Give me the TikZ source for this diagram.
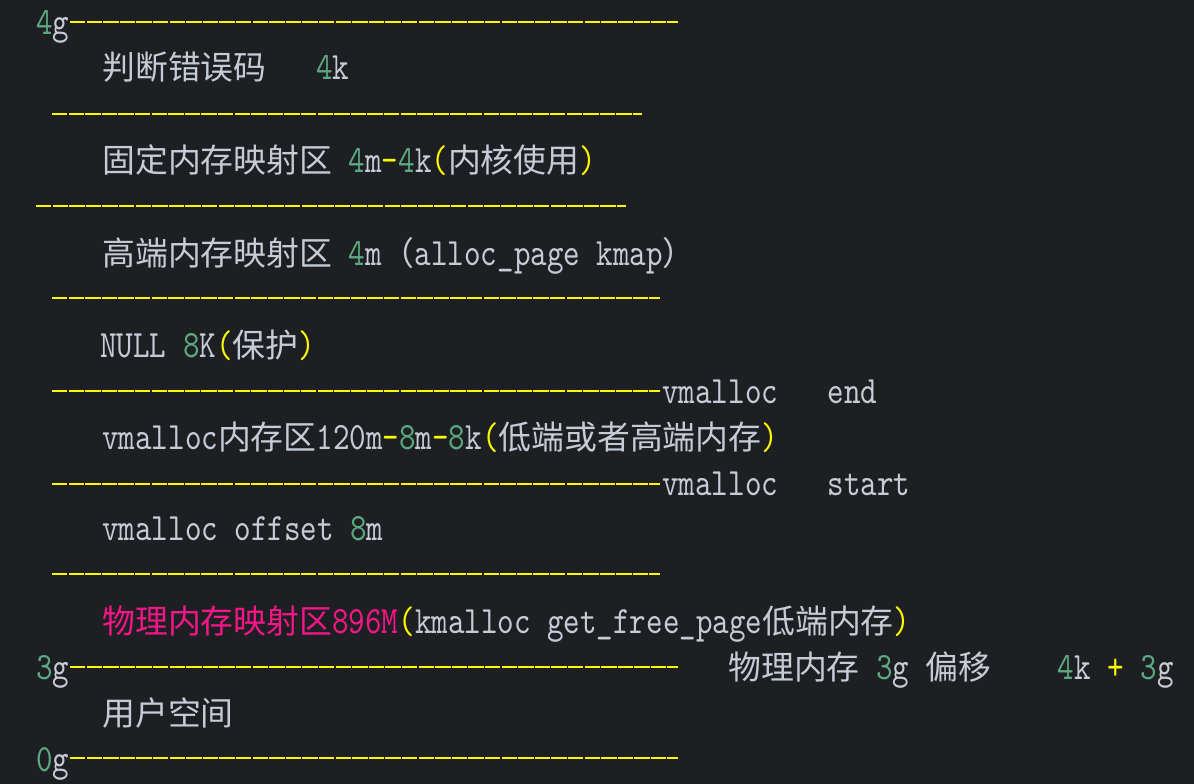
\documentclass[tikz,border=0pt]{standalone}
\usepackage{fontspec}
\newfontfamily\codefont{lmmono10-regular.otf}[FakeStretch=0.815]
\newfontfamily\cjk{Noto Sans CJK SC}[Scale=0.85]

\definecolor{bgdark}{RGB}{30,31,34}
\definecolor{plain}{RGB}{198,204,214}
\definecolor{numgreen}{RGB}{92,168,128}
\definecolor{opyellow}{RGB}{250,250,0}
\definecolor{hotpink}{RGB}{245,22,135}

\newcommand\dg[1]{\textcolor{numgreen}{#1}}
\newcommand\op[1]{\textcolor{opyellow}{#1}}
\newcommand\zh[1]{{\cjk #1}}

\tikzset{
  listing/.style={anchor=base west, inner sep=0pt, text=plain,
    font=\codefont\fontsize{22pt}{26pt}\selectfont},
  dashrule/.style={draw=opyellow, line width=0.04cm, dash pattern=on 0.31cm off 0.022cm},
}

\begin{document}
\begin{tikzpicture}[x=0.02cm, y=-0.02cm]
  \fill[bgdark] (0,0) rectangle (1194,784);
  \useasboundingbox (0,0) rectangle (1194,784);

  % 4g top
  \node[listing] (g4) at (36,35) {\dg{4}g};
  \draw[dashrule] (70,22) -- (678,22);
  \node[listing] (errpage) at (102,80) {\zh{判断错误码}~~~\dg{4}k};
  \draw[dashrule] (52,114) -- (642,114);
  \node[listing] (fixmap) at (102,173) {\zh{固定内存映射区}~\dg{4}m\op{-}\dg{4}k\op{(}\zh{内核使用}\op{)}};
  \draw[dashrule] (36,206) -- (626,206);
  \node[listing] (kmap) at (102,265) {\zh{高端内存映射区}~\dg{4}m\zh{（}alloc\_page~kmap\zh{）}};
  \draw[dashrule] (52,298) -- (660,298);
  \node[listing] (guard) at (100,357) {NULL~\dg{8}K\op{(}\zh{保护}\op{)}};

  % vmalloc area
  \draw[dashrule] (52,391) -- (660,391);
  \node[listing] (vend) at (662,403) {vmalloc~~~end};
  \node[listing] (vmarea) at (102,449) {vmalloc\zh{内存区}120m\op{-}\dg{8}m\op{-}\dg{8}k\op{(}\zh{低端或者高端内存}\op{)}};
  \draw[dashrule] (52,484) -- (660,484);
  \node[listing] (vstart) at (662,495) {vmalloc~~~start};
  \node[listing] (voff) at (102,540) {vmalloc~offset~\dg{8}m};
  \draw[dashrule] (52,574) -- (660,574);

  % low memory
  \node[listing] (lowmem) at (102,633) {\textcolor{hotpink}{\zh{物理内存映射区}896M}\op{(}kmalloc~get\_free\_page\zh{低端内存}\op{)}};
  \node[listing] (g3) at (36,679) {\dg{3}g};
  \draw[dashrule] (70,667) -- (678,667);
  \node[listing] (offs) at (728,679) {\zh{物理内存}~\dg{3}g~\zh{偏移}~~~~\dg{4}k~\op{+}~\dg{3}g};

  % user space
  \node[listing] (user) at (102,725) {\zh{用户空间}};
  \node[listing] (g0) at (36,771) {\dg{0}g};
  \draw[dashrule] (70,758) -- (678,758);
\end{tikzpicture}
\end{document}
